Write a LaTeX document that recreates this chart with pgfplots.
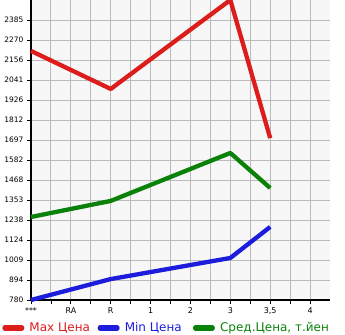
\documentclass[border=0pt]{standalone}
\usepackage{pgfplots}
\pgfplotsset{compat=1.18}
\usepackage{fontspec}
\setmainfont{DejaVu Sans}
\definecolor{cmax}{HTML}{DD1C1C}
\definecolor{cmin}{HTML}{1C1CDD}
\definecolor{cavg}{HTML}{0A820A}
\definecolor{bg}{HTML}{F7F7F7}
\definecolor{gr}{HTML}{BBBBBB}
\begin{document}
\begin{tikzpicture}[x=1bp,y=1bp]
\useasboundingbox (0,0) rectangle (345,335);
\begin{axis}[
  at={(31bp,35bp)}, anchor=south west,
  scale only axis, width=299bp, height=300bp,
  xmin=0, xmax=7.5, ymin=780, ymax=2500,
  axis background/.style={fill=bg},
  xtick={0,1,2,3,4,5,6,7},
  xticklabels={***,RA,R,1,2,3,{3,5},4},
  minor xtick={0.5,1.5,2.5,3.5,4.5,5.5,6.5},
  ytick={780,894.67,1009.33,1124,1238.67,1353.33,1468,1582.67,1697.33,1812,1926.67,2041.33,2156,2270.67,2385.33},
  yticklabels={780,894,1009,1124,1238,1353,1468,1582,1697,1812,1926,2041,2156,2270,2385},
  grid=both,
  major grid style={gr, line width=0.9pt},
  minor grid style={gr, line width=0.9pt},
  axis x line*=bottom, axis y line*=left,
  axis line style={black, line width=1.6pt, -},
  tick style={black, line width=0.8pt},
  tick align=outside,
  major tick length=4bp, minor tick length=4bp,
  yticklabel style={font=\fontsize{7.5}{8}\selectfont},
  xticklabel style={font=\fontsize{8}{9}\selectfont},
  /pgf/number format/assume math mode=true,
  clip=false,
  legend style={at={(-31bp,-28bp)}, anchor=west, draw=none, fill=none,
    font=\fontsize{12bp}{14bp}\selectfont, legend columns=3,
    /tikz/column sep=0pt,
    /tikz/every even column/.append style={column sep=0pt},
    nodes={inner xsep=0pt, inner ysep=1bp},
    inner xsep=0pt, inner ysep=0pt},
  legend image code/.code={\path (0,0) (25bp,0); \draw[#1, line width=5bp, line cap=round] (2.5bp,0) -- (19.5bp,0);},
  every axis plot/.append style={line width=4.3bp, line join=round},
]
\addplot[cmax] coordinates {(0,2208) (2,1990) (5,2500) (6,1708)};
\addlegendentry{\makebox[66bp][l]{\textcolor{cmax}{Max Цена}}}
\addplot[cmin] coordinates {(0,780) (2,900) (5,1021) (6,1199)};
\addlegendentry{\makebox[66bp][l]{\textcolor{cmin}{Min Цена}}}
\addplot[cavg] coordinates {(0,1256) (2,1348) (5,1623) (6,1422)};
\addlegendentry{\textcolor{cavg}{Сред.Цена, т.йен}}
\end{axis}
\end{tikzpicture}
\end{document}
